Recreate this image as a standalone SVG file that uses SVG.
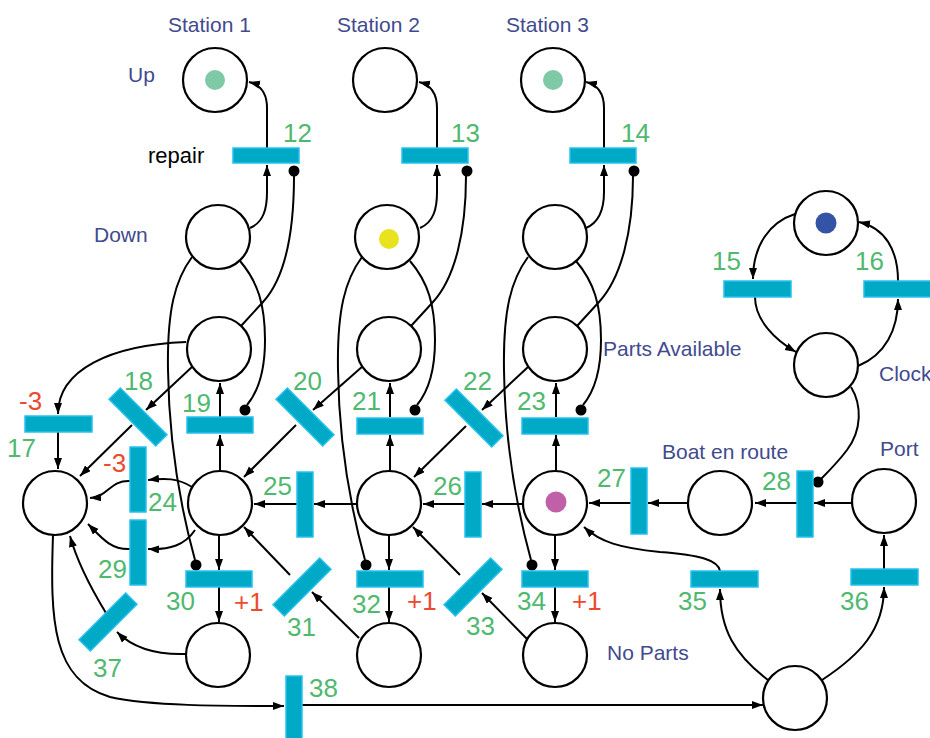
<svg xmlns="http://www.w3.org/2000/svg" width="930" height="738" viewBox="0 0 930 738">
<defs>
<marker id="arr" markerUnits="userSpaceOnUse" markerWidth="12" markerHeight="10" refX="11" refY="4" orient="auto"><path d="M0,0 L11,4 L0,8 z" fill="#000"/></marker>
<style>
.pl{fill:#fff;stroke:#000;stroke-width:2.2}
.tr{fill:#00AAC6;stroke:#26C1EE;stroke-width:1.5}
.cn{fill:none;stroke:#000;stroke-width:2}
.ar{marker-end:url(#arr)}
.dot{fill:#000}
.num{font-family:"Liberation Sans",Arial,sans-serif;font-size:26px;fill:#4FB96F}
.neg{font-family:"Liberation Sans",Arial,sans-serif;font-size:26px;fill:#EC4A2F}
.lbl{font-family:"Liberation Sans",Arial,sans-serif;font-size:21px;fill:#424A8E}
.blk{font-family:"Liberation Sans",Arial,sans-serif;font-size:22px;fill:#000}
</style>
</defs>
<rect width="930" height="738" fill="#fff"/>

<g id="connectors">
  <g id="col1">
    <path class="cn ar" d="M250,228 C264,222 267,208 267,192 L267,165"/>
    <path class="cn ar" d="M267,148 L267,108 C267,93 261,85 249,82"/>
    <path class="cn" d="M241,326 L263,302 C285,278 294,232 294,176"/><circle class="dot" cx="294" cy="171" r="5.5"/>
    <path class="cn" d="M240,261 C258,282 265,305 265,340 C265,372 257,393 247,405"/><circle class="dot" cx="245" cy="410" r="5.5"/>
    <path class="cn" d="M192,257 C175,280 167,310 168,370 C169,450 184,520 195,560"/><circle class="dot" cx="196" cy="565" r="5.5"/>
    <path class="cn ar" d="M220,471 L220,435"/>
    <path class="cn ar" d="M220,417 L220,383"/>
    <path class="cn ar" d="M219,535 L219,570"/>
    <path class="cn ar" d="M219,587 L219,622"/>
  </g>
  <g id="col2" transform="translate(170,0)">
    <path class="cn ar" d="M250,228 C264,222 267,208 267,192 L267,165"/>
    <path class="cn ar" d="M267,148 L267,108 C267,93 261,85 249,82"/>
    <path class="cn" d="M241,326 L263,302 C285,278 296,232 296,176"/><circle class="dot" cx="297" cy="171" r="5.5"/>
    <path class="cn" d="M240,261 C258,282 265,305 265,340 C265,372 257,393 247,405"/><circle class="dot" cx="245" cy="410" r="5.5"/>
    <path class="cn" d="M192,257 C175,280 167,310 168,370 C169,450 184,520 195,560"/><circle class="dot" cx="196" cy="565" r="5.5"/>
    <path class="cn ar" d="M220,471 L220,435"/>
    <path class="cn ar" d="M220,417 L220,383"/>
    <path class="cn ar" d="M219,535 L219,570"/>
    <path class="cn ar" d="M219,587 L219,622"/>
  </g>
  <g id="col3" transform="translate(336,0)">
    <path class="cn ar" d="M250,228 C264,222 268,208 268,192 L268,165"/>
    <path class="cn ar" d="M268,148 L268,108 C268,93 262,85 250,82"/>
    <path class="cn" d="M241,326 L263,302 C285,278 297,232 297,176"/><circle class="dot" cx="298" cy="171" r="5.5"/>
    <path class="cn" d="M240,261 C258,282 265,305 265,340 C265,372 257,393 247,405"/><circle class="dot" cx="245" cy="410" r="5.5"/>
    <path class="cn" d="M192,257 C175,280 167,310 168,370 C169,450 184,520 195,560"/><circle class="dot" cx="196" cy="565" r="5.5"/>
    <path class="cn ar" d="M220,471 L220,435"/>
    <path class="cn ar" d="M220,417 L220,383"/>
    <path class="cn ar" d="M219,535 L219,570"/>
    <path class="cn ar" d="M219,587 L219,622"/>
  </g>
  <!-- left area -->
  <path class="cn ar" d="M186,342 C110,345 58,370 58,414"/>
  <path class="cn ar" d="M193,366 L146,410"/>
  <path class="cn ar" d="M132,425 L80,476"/>
  <path class="cn ar" d="M58,432 L58,469"/>
  <path class="cn ar" d="M192,487 C178,478 165,478 148,480"/>
  <path class="cn ar" d="M130,481 C110,480 108,497 90,498"/>
  <path class="cn ar" d="M195,530 C185,545 170,550 148,549"/>
  <path class="cn ar" d="M130,549 C110,550 100,536 88,524"/>
  <path class="cn ar" d="M186,654 C155,655 133,648 117,632"/>
  <path class="cn ar" d="M106,613 C92,590 78,565 70,536"/>
  <path class="cn ar" d="M53,535 C50,620 52,680 110,697 C150,706 220,706 284,706"/>
  <path class="cn ar" d="M302,705 L763,705"/>
  <!-- diagonals -->
  <path class="cn ar" d="M363,366 L313,410"/>
  <path class="cn ar" d="M296,425 L244,477"/>
  <path class="cn ar" d="M528,367 L482,410"/>
  <path class="cn ar" d="M466,426 L414,477"/>
  <path class="cn ar" d="M359,638 L312,592"/>
  <path class="cn ar" d="M290,575 L244,527"/>
  <path class="cn ar" d="M527,639 L482,593"/>
  <path class="cn ar" d="M460,575 L413,527"/>
  <!-- horizontals -->
  <path class="cn ar" d="M357,504 L314,504"/>
  <path class="cn ar" d="M297,504 L254,504"/>
  <path class="cn ar" d="M523,504 L482,504"/>
  <path class="cn ar" d="M465,504 L423,504"/>
  <path class="cn ar" d="M688,503 L648,503"/>
  <path class="cn ar" d="M631,503 L589,503"/>
  <path class="cn ar" d="M852,503 L814,503"/>
  <path class="cn ar" d="M797,503 L755,503"/>
  <!-- clock -->
  <path class="cn ar" d="M795,214 C770,222 753,245 753,279"/>
  <path class="cn ar" d="M755,297 C755,320 775,340 796,352"/>
  <path class="cn ar" d="M858,366 C885,355 898,330 898,299"/>
  <path class="cn ar" d="M898,281 C898,250 885,228 859,222"/>
  <path class="cn" d="M851,387 C862,405 862,430 847,450 C838,462 828,472 821,479"/><circle class="dot" cx="818" cy="482" r="5.5"/>
  <!-- bottom right -->
  <path class="cn ar" d="M884,569 L884,535"/>
  <path class="cn ar" d="M822,680 C860,655 884,630 884,587"/>
  <path class="cn ar" d="M768,680 C735,655 720,630 720,589"/>
  <path class="cn ar" d="M720,571 C718,560 700,555 660,552 C620,548 600,542 584,527"/>
</g>

<!-- places -->
<g id="p_up1"><circle class="pl" cx="215" cy="80" r="32"/><circle cx="215" cy="80" r="10" fill="#80C9A6"/></g>
<g id="p_up2"><circle class="pl" cx="385" cy="80" r="32"/></g>
<g id="p_up3"><circle class="pl" cx="553" cy="80" r="32"/><circle cx="553" cy="80" r="10" fill="#80C9A6"/></g>
<g id="p_down1"><circle class="pl" cx="218" cy="237" r="32"/></g>
<g id="p_down2"><circle class="pl" cx="387" cy="237" r="32"/><circle cx="389" cy="239" r="10" fill="#E8E21F"/></g>
<g id="p_down3"><circle class="pl" cx="555" cy="237" r="32"/></g>
<g id="p_pa1"><circle class="pl" cx="219" cy="349" r="32"/></g>
<g id="p_pa2"><circle class="pl" cx="389" cy="349" r="32"/></g>
<g id="p_pa3"><circle class="pl" cx="555" cy="349" r="32"/></g>
<g id="p_left"><circle class="pl" cx="55" cy="503" r="32"/></g>
<g id="p_m1"><circle class="pl" cx="220" cy="503" r="32"/></g>
<g id="p_m2"><circle class="pl" cx="389" cy="503" r="32"/></g>
<g id="p_m3"><circle class="pl" cx="555" cy="503" r="32"/><circle cx="556" cy="502" r="10.5" fill="#C061A8"/></g>
<g id="p_boat"><circle class="pl" cx="720" cy="503" r="32"/></g>
<g id="p_port"><circle class="pl" cx="884" cy="501" r="32"/></g>
<g id="p_np1"><circle class="pl" cx="218" cy="655" r="32"/></g>
<g id="p_np2"><circle class="pl" cx="389" cy="655" r="32"/></g>
<g id="p_np3"><circle class="pl" cx="555" cy="655" r="32"/></g>
<g id="p_br"><circle class="pl" cx="795" cy="698" r="32"/></g>
<g id="p_clk1"><circle class="pl" cx="826" cy="223" r="32"/><circle cx="826" cy="223" r="10.5" fill="#3553A6"/></g>
<g id="p_clk2"><circle class="pl" cx="826" cy="365" r="32"/></g>

<!-- transitions -->
<g id="t12"><rect class="tr" x="233" y="148" width="66" height="15"/></g>
<g id="t13"><rect class="tr" x="402" y="148" width="66" height="15"/></g>
<g id="t14"><rect class="tr" x="570" y="148" width="66" height="15"/></g>
<g id="t15"><rect class="tr" x="724" y="281" width="67" height="16"/></g>
<g id="t16"><rect class="tr" x="864" y="281" width="67" height="16"/></g>
<g id="t17"><rect class="tr" x="25" y="416" width="67" height="16"/></g>
<g id="t18"><rect class="tr" x="105" y="409" width="66" height="16" transform="rotate(45 138 417)"/></g>
<g id="t19"><rect class="tr" x="187" y="417" width="66" height="16"/></g>
<g id="t20"><rect class="tr" x="272" y="409" width="66" height="16" transform="rotate(45 305 417)"/></g>
<g id="t21"><rect class="tr" x="357" y="418" width="66" height="16"/></g>
<g id="t22"><rect class="tr" x="441" y="410" width="66" height="16" transform="rotate(45 474 418)"/></g>
<g id="t23"><rect class="tr" x="522" y="418" width="66" height="16"/></g>
<g id="t24"><rect class="tr" x="130" y="447" width="16" height="65"/></g>
<g id="t25"><rect class="tr" x="297" y="472" width="16" height="65"/></g>
<g id="t26"><rect class="tr" x="465" y="472" width="16" height="65"/></g>
<g id="t27"><rect class="tr" x="631" y="468" width="16" height="66"/></g>
<g id="t28"><rect class="tr" x="797" y="471" width="16" height="66"/></g>
<g id="t29"><rect class="tr" x="130" y="520" width="16" height="65"/></g>
<g id="t30"><rect class="tr" x="186" y="571" width="66" height="16"/></g>
<g id="t31"><rect class="tr" x="269" y="579" width="66" height="16" transform="rotate(-45 302 587)"/></g>
<g id="t32"><rect class="tr" x="357" y="571" width="66" height="16"/></g>
<g id="t33"><rect class="tr" x="440" y="579" width="66" height="16" transform="rotate(-45 473 587)"/></g>
<g id="t34"><rect class="tr" x="522" y="571" width="66" height="16"/></g>
<g id="t35"><rect class="tr" x="691" y="571" width="67" height="16"/></g>
<g id="t36"><rect class="tr" x="851" y="569" width="67" height="16"/></g>
<g id="t37"><rect class="tr" x="75" y="614" width="66" height="16" transform="rotate(-45 108 622)"/></g>
<g id="t38"><rect class="tr" x="286" y="676" width="16" height="66"/></g>

<!-- labels -->
<g id="labels">
<text class="lbl" x="168" y="32">Station 1</text>
<text class="lbl" x="337" y="32">Station 2</text>
<text class="lbl" x="506" y="32">Station 3</text>
<text class="lbl" x="128" y="82">Up</text>
<text class="lbl" x="94" y="242">Down</text>
<text class="blk" x="148" y="163">repair</text>
<text class="lbl" x="603" y="356">Parts Available</text>
<text class="lbl" x="879" y="381">Clock</text>
<text class="lbl" x="662" y="459">Boat en route</text>
<text class="lbl" x="880" y="456">Port</text>
<text class="lbl" x="607" y="660">No Parts</text>

<text class="num" x="283" y="142">12</text>
<text class="num" x="451" y="142">13</text>
<text class="num" x="621" y="142">14</text>
<text class="num" x="712" y="270">15</text>
<text class="num" x="855" y="270">16</text>
<text class="num" x="7" y="457">17</text>
<text class="num" x="124" y="390">18</text>
<text class="num" x="182" y="412">19</text>
<text class="num" x="293" y="390">20</text>
<text class="num" x="352" y="410">21</text>
<text class="num" x="463" y="390">22</text>
<text class="num" x="517" y="410">23</text>
<text class="num" x="148" y="511">24</text>
<text class="num" x="263" y="495">25</text>
<text class="num" x="433" y="495">26</text>
<text class="num" x="597" y="487">27</text>
<text class="num" x="762" y="490">28</text>
<text class="num" x="98" y="578">29</text>
<text class="num" x="166" y="610">30</text>
<text class="num" x="287" y="636">31</text>
<text class="num" x="352" y="613">32</text>
<text class="num" x="466" y="635">33</text>
<text class="num" x="517" y="610">34</text>
<text class="num" x="678" y="610">35</text>
<text class="num" x="840" y="610">36</text>
<text class="num" x="93" y="677">37</text>
<text class="num" x="309" y="697">38</text>
<text class="neg" x="19" y="410">-3</text>
<text class="neg" x="103" y="472">-3</text>
<text class="neg" x="234" y="611">+1</text>
<text class="neg" x="407" y="610">+1</text>
<text class="neg" x="572" y="610">+1</text>
</g>
</svg>
